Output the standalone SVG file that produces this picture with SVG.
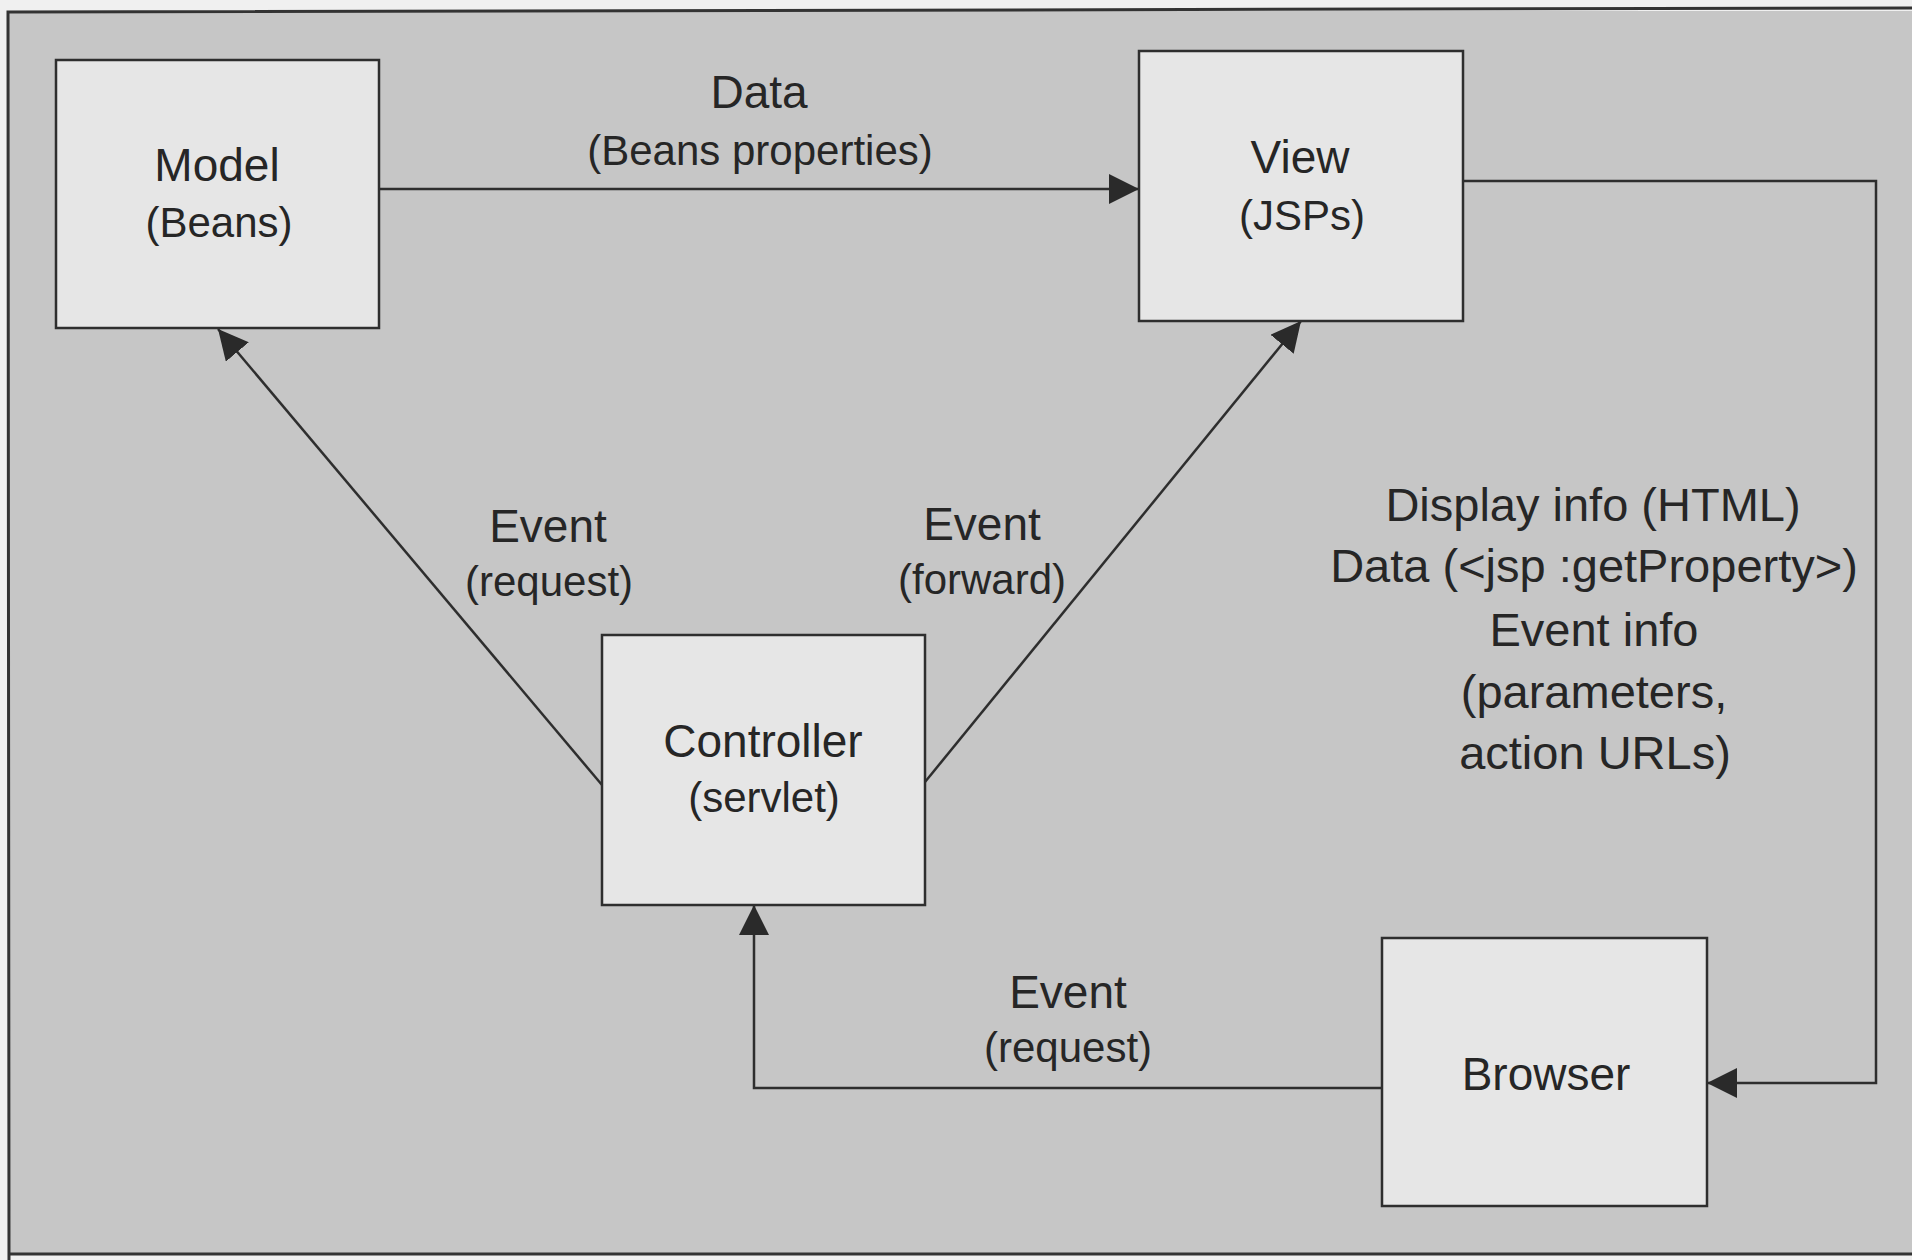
<svg xmlns="http://www.w3.org/2000/svg" width="1912" height="1260" viewBox="0 0 1912 1260">
<defs>
<style>
.box{fill:#e6e6e6;stroke:#2e2e2e;stroke-width:2.5}
.t{font-family:"Liberation Sans",Arial,sans-serif;fill:#262626;text-anchor:middle}
.m{font-size:46px}
.r{font-size:47px}
.s{font-size:42px}
.c{fill:none;stroke:#2e2e2e;stroke-width:2.5}
</style>
<marker id="ah" markerUnits="userSpaceOnUse" markerWidth="32" markerHeight="32" refX="30" refY="15" orient="auto">
<path d="M0,0 L30,15 L0,30 z" fill="#2a2a2a"/>
</marker>
</defs>
<rect x="0" y="0" width="1912" height="1260" fill="#f0f0f0"/>
<rect x="8" y="11" width="1910" height="1244" fill="#c6c6c6"/>
<path d="M1912,8 L8,12 L9,1260 M9,1254 L1912,1254" fill="none" stroke="#333" stroke-width="3"/>
<g id="connectors">
<line class="c" x1="379" y1="189" x2="1139" y2="189" marker-end="url(#ah)"/>
<polyline class="c" points="1463,181 1876,181 1876,1083 1707,1083" marker-end="url(#ah)"/>
<polyline class="c" points="1382,1088 754,1088 754,905" marker-end="url(#ah)"/>
<line class="c" x1="602" y1="785" x2="218" y2="329" marker-end="url(#ah)"/>
<line class="c" x1="925" y1="782" x2="1301" y2="321" marker-end="url(#ah)"/>
</g>
<g id="model">
<rect class="box" x="56" y="60" width="323" height="268"/>
<text class="t m" x="217" y="181">Model</text>
<text class="t s" x="219" y="237">(Beans)</text>
</g>
<g id="view">
<rect class="box" x="1139" y="51" width="324" height="270"/>
<text class="t m" x="1300" y="173">View</text>
<text class="t s" x="1302" y="230">(JSPs)</text>
</g>
<g id="controller">
<rect class="box" x="602" y="635" width="323" height="270"/>
<text class="t m" x="763" y="757">Controller</text>
<text class="t s" x="764" y="812">(servlet)</text>
</g>
<g id="browser">
<rect class="box" x="1382" y="938" width="325" height="268"/>
<text class="t m" x="1546" y="1090">Browser</text>
</g>
<g id="labels">
<text class="t m" x="759" y="108">Data</text>
<text class="t s" x="760" y="165">(Beans properties)</text>
<text class="t m" x="548" y="542">Event</text>
<text class="t s" x="549" y="596">(request)</text>
<text class="t m" x="982" y="540">Event</text>
<text class="t s" x="982" y="594">(forward)</text>
<text class="t m" x="1068" y="1008">Event</text>
<text class="t s" x="1068" y="1062">(request)</text>
<text class="t r" x="1593" y="521">Display info (HTML)</text>
<text class="t r" x="1594" y="582">Data (&lt;jsp :getProperty&gt;)</text>
<text class="t r" x="1594" y="646">Event info</text>
<text class="t r" x="1594" y="708">(parameters,</text>
<text class="t r" x="1595" y="769">action URLs)</text>
</g>
</svg>
